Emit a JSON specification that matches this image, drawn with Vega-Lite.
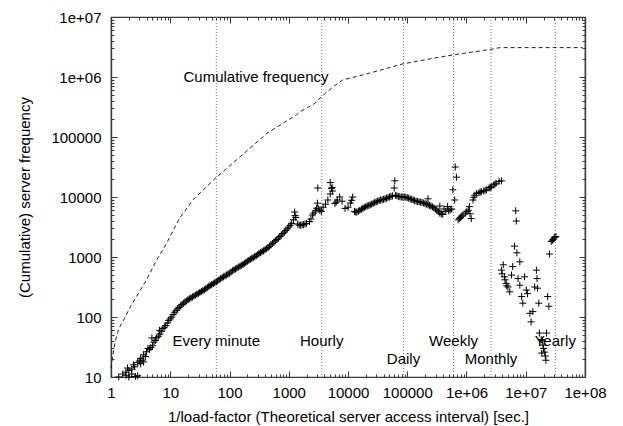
{
  "$schema": "https://vega.github.io/schema/vega-lite/v6.json",
  "width": 474,
  "height": 360,
  "autosize": {"type": "none"},
  "padding": {"left": 111, "top": 17, "right": 38, "bottom": 49},
  "background": "white",
  "config": {
    "view": {"stroke": "#3a3a3a", "strokeWidth": 1.2},
    "font": "Liberation Sans",
    "axis": {
      "labelFont": "Liberation Sans", "titleFont": "Liberation Sans",
      "labelFontSize": 15, "titleFontSize": 15, "titleFontWeight": "normal",
      "labelColor": "black", "titleColor": "black",
      "domainColor": "#3a3a3a", "domainWidth": 1.2, "tickColor": "#3a3a3a", "tickWidth": 1,
      "grid": false, "labelFlush": false, "labelOverlap": false
    }
  },
  "datasets": {
    "lines": [{"x": 60}, {"x": 3600}, {"x": 86400}, {"x": 604800}, {"x": 2592000}, {"x": 31536000}],
    "labels": [
      {"x": 280, "y": 1000000, "t": "Cumulative frequency"},
      {"x": 60, "y": 40, "t": "Every minute"},
      {"x": 3600, "y": 40, "t": "Hourly"},
      {"x": 86400, "y": 20, "t": "Daily"},
      {"x": 604800, "y": 40, "t": "Weekly"},
      {"x": 2592000, "y": 20, "t": "Monthly"},
      {"x": 31536000, "y": 40, "t": "Yearly"}
    ],
    "cum": [
      {"x": 1, "y": 14.1}, {"x": 1.07, "y": 22.4}, {"x": 1.17, "y": 38}, {"x": 1.29, "y": 55},
      {"x": 1.41, "y": 69}, {"x": 1.74, "y": 100}, {"x": 2.14, "y": 151}, {"x": 2.69, "y": 219},
      {"x": 3.98, "y": 417}, {"x": 5.89, "y": 891}, {"x": 8.71, "y": 1698}, {"x": 12.9, "y": 3631},
      {"x": 14.5, "y": 4467}, {"x": 24, "y": 8913}, {"x": 60.3, "y": 21380}, {"x": 151, "y": 46770},
      {"x": 427, "y": 114800}, {"x": 1349, "y": 234400}, {"x": 1549, "y": 263000}, {"x": 2754, "y": 363100},
      {"x": 3548, "y": 467700}, {"x": 5495, "y": 676100}, {"x": 8128, "y": 891300}, {"x": 20420, "y": 1122000},
      {"x": 85110, "y": 1660000}, {"x": 269200, "y": 2042000}, {"x": 602600, "y": 2344000},
      {"x": 2570000, "y": 2884000}, {"x": 3631000, "y": 3090000}, {"x": 91200000, "y": 3090000}
    ],
    "scatter": [
      {"x": 1.35, "y": 10}, {"x": 1.58, "y": 11.2}, {"x": 1.78, "y": 10.7}, {"x": 1.78, "y": 12}, {"x": 1.9, "y": 14.1},
      {"x": 2, "y": 10}, {"x": 2, "y": 12.9}, {"x": 2.24, "y": 11.2}, {"x": 2.24, "y": 13.5}, {"x": 2.51, "y": 14.8},
      {"x": 2.6, "y": 10.2}, {"x": 2.4, "y": 16},
      {"x": 2.82, "y": 10.5}, {"x": 2.82, "y": 17.4}, {"x": 3.16, "y": 16.6}, {"x": 3.16, "y": 20.4},
      {"x": 3.0, "y": 18.5}, {"x": 3.35, "y": 19}, {"x": 3.8, "y": 22}, {"x": 4.2, "y": 30}, {"x": 4.7, "y": 31},
      {"x": 3.55, "y": 17.8}, {"x": 3.55, "y": 23.4}, {"x": 3.98, "y": 26.3}, {"x": 4.47, "y": 28.8},
      {"x": 4.9, "y": 44.7}, {"x": 5.01, "y": 33.1}, {"x": 5.3, "y": 38}, {"x": 5.62, "y": 40.7}, {"x": 5.9, "y": 45},
      {"x": 6.31, "y": 47.9}, {"x": 6.7, "y": 52}, {"x": 6.6, "y": 60},
      {"x": 7.08, "y": 57.5}, {"x": 7.5, "y": 64}, {"x": 7.94, "y": 67.6}, {"x": 8.4, "y": 72}, {"x": 8.91, "y": 79.4}, {"x": 9.4, "y": 88}, {"x": 10, "y": 93.3},
      {"x": 10.6, "y": 100}, {"x": 11.2, "y": 110}, {"x": 11.9, "y": 120}, {"x": 12.6, "y": 129}, {"x": 13.3, "y": 137}, {"x": 14.1, "y": 145}, {"x": 15, "y": 153}, {"x": 15.8, "y": 162},
      {"x": 16.8, "y": 170}, {"x": 17.8, "y": 178}, {"x": 18.9, "y": 186}, {"x": 20, "y": 195}, {"x": 21.2, "y": 202}, {"x": 22.4, "y": 209}, {"x": 23.7, "y": 216}, {"x": 25.1, "y": 224},
      {"x": 26.6, "y": 232}, {"x": 28.2, "y": 240}, {"x": 29.9, "y": 248}, {"x": 31.6, "y": 257}, {"x": 33.5, "y": 266}, {"x": 35.5, "y": 275}, {"x": 37.6, "y": 285}, {"x": 39.8, "y": 295},
      {"x": 42.2, "y": 309}, {"x": 44.7, "y": 324}, {"x": 47.3, "y": 335}, {"x": 50.1, "y": 347}, {"x": 53.1, "y": 359}, {"x": 56.2, "y": 372}, {"x": 59.6, "y": 385}, {"x": 63.1, "y": 398},
      {"x": 66.8, "y": 417}, {"x": 70.8, "y": 437}, {"x": 75, "y": 452}, {"x": 79.4, "y": 468}, {"x": 84.1, "y": 484}, {"x": 89.1, "y": 501}, {"x": 94.4, "y": 519}, {"x": 100, "y": 537},
      {"x": 106, "y": 562}, {"x": 112, "y": 589}, {"x": 119, "y": 610}, {"x": 126, "y": 631}, {"x": 133, "y": 653}, {"x": 141, "y": 676}, {"x": 150, "y": 700}, {"x": 158, "y": 724},
      {"x": 168, "y": 750}, {"x": 178, "y": 776}, {"x": 189, "y": 813}, {"x": 200, "y": 851}, {"x": 212, "y": 881}, {"x": 224, "y": 912}, {"x": 237, "y": 944}, {"x": 251, "y": 977},
      {"x": 266, "y": 1012}, {"x": 282, "y": 1047}, {"x": 299, "y": 1096}, {"x": 316, "y": 1148}, {"x": 335, "y": 1188}, {"x": 355, "y": 1230}, {"x": 376, "y": 1273}, {"x": 398, "y": 1318},
      {"x": 422, "y": 1380}, {"x": 447, "y": 1445}, {"x": 473, "y": 1513}, {"x": 501, "y": 1585}, {"x": 531, "y": 1679}, {"x": 562, "y": 1778}, {"x": 596, "y": 1862}, {"x": 631, "y": 1950},
      {"x": 668, "y": 2065}, {"x": 708, "y": 2188}, {"x": 750, "y": 2317}, {"x": 794, "y": 2455}, {"x": 841, "y": 2600}, {"x": 891, "y": 2754}, {"x": 944, "y": 2951}, {"x": 1000, "y": 3162},
      {"x": 1060, "y": 3388}, {"x": 1122, "y": 3631}, {"x": 1202, "y": 4169}, {"x": 1259, "y": 5623}, {"x": 1280, "y": 4900}, {"x": 1318, "y": 4571},
      {"x": 1413, "y": 3548}, {"x": 1500, "y": 3400}, {"x": 1585, "y": 3388}, {"x": 1680, "y": 3420}, {"x": 1778, "y": 3467}, {"x": 1880, "y": 3550}, {"x": 1995, "y": 3631},
      {"x": 2239, "y": 3890}, {"x": 2370, "y": 4300}, {"x": 2512, "y": 5012}, {"x": 2660, "y": 5400}, {"x": 2818, "y": 5888}, {"x": 2950, "y": 6500}, {"x": 3090, "y": 14130}, {"x": 3050, "y": 7900},
      {"x": 3162, "y": 6310}, {"x": 3350, "y": 6000}, {"x": 3548, "y": 5754}, {"x": 3802, "y": 6761}, {"x": 4169, "y": 7586},
      {"x": 4571, "y": 8913}, {"x": 5012, "y": 11220}, {"x": 5248, "y": 13800}, {"x": 5012, "y": 17380}, {"x": 5400, "y": 14500},
      {"x": 5495, "y": 12590}, {"x": 6026, "y": 7762}, {"x": 6300, "y": 8200}, {"x": 6607, "y": 8913}, {"x": 7244, "y": 10000},
      {"x": 7943, "y": 8511}, {"x": 8913, "y": 6457}, {"x": 10000, "y": 6761}, {"x": 10960, "y": 7943}, {"x": 11500, "y": 8800},
      {"x": 12020, "y": 10000}, {"x": 12880, "y": 5754}, {"x": 13500, "y": 5600}, {"x": 14130, "y": 5623}, {"x": 15000, "y": 5800}, {"x": 15850, "y": 6026},
      {"x": 16800, "y": 6250}, {"x": 17780, "y": 6457}, {"x": 18800, "y": 6700}, {"x": 19950, "y": 6918}, {"x": 21100, "y": 7100}, {"x": 22390, "y": 7244}, {"x": 23700, "y": 7400}, {"x": 25120, "y": 7586},
      {"x": 26600, "y": 7850}, {"x": 28180, "y": 8128}, {"x": 29900, "y": 8300}, {"x": 31620, "y": 8511}, {"x": 33500, "y": 8700}, {"x": 35480, "y": 8913}, {"x": 37600, "y": 9000}, {"x": 39810, "y": 9120},
      {"x": 42200, "y": 9330}, {"x": 44670, "y": 9550}, {"x": 47300, "y": 9800}, {"x": 50120, "y": 10000}, {"x": 53100, "y": 10200}, {"x": 56230, "y": 10470}, {"x": 60260, "y": 14130},
      {"x": 61660, "y": 18620}, {"x": 63100, "y": 10720}, {"x": 66800, "y": 10500}, {"x": 70790, "y": 10230}, {"x": 75000, "y": 10100}, {"x": 79430, "y": 10000},
      {"x": 84100, "y": 10000}, {"x": 89130, "y": 10000}, {"x": 94400, "y": 9900}, {"x": 100000, "y": 9772}, {"x": 106000, "y": 9550}, {"x": 112200, "y": 9333}, {"x": 119000, "y": 9120}, {"x": 125900, "y": 8913},
      {"x": 133000, "y": 8700}, {"x": 141300, "y": 8511}, {"x": 150000, "y": 8400}, {"x": 158500, "y": 8318}, {"x": 168000, "y": 8200}, {"x": 177800, "y": 8128}, {"x": 189000, "y": 7950}, {"x": 199500, "y": 7762},
      {"x": 211000, "y": 7600}, {"x": 223900, "y": 7413}, {"x": 223900, "y": 9333}, {"x": 237000, "y": 7250}, {"x": 251200, "y": 7079}, {"x": 266000, "y": 6850}, {"x": 281800, "y": 6607}, {"x": 299000, "y": 6300},
      {"x": 316200, "y": 6026}, {"x": 335000, "y": 5700}, {"x": 354800, "y": 5370}, {"x": 354800, "y": 7079}, {"x": 376000, "y": 5250}, {"x": 398100, "y": 5129},
      {"x": 416900, "y": 6310}, {"x": 446700, "y": 5754}, {"x": 478600, "y": 6918}, {"x": 501200, "y": 5888}, {"x": 530000, "y": 6100},
      {"x": 562300, "y": 6310}, {"x": 588800, "y": 13180}, {"x": 631000, "y": 8913}, {"x": 645700, "y": 31620},
      {"x": 676100, "y": 21380}, {"x": 724400, "y": 4169}, {"x": 760000, "y": 4400}, {"x": 794300, "y": 4571}, {"x": 830000, "y": 4800}, {"x": 871000, "y": 5012},
      {"x": 955000, "y": 5370}, {"x": 1010000, "y": 5700}, {"x": 1072000, "y": 6026}, {"x": 1122000, "y": 6918}, {"x": 1148000, "y": 5248},
      {"x": 1202000, "y": 4365}, {"x": 1288000, "y": 8913}, {"x": 1330000, "y": 9900}, {"x": 1380000, "y": 10720}, {"x": 1479000, "y": 11480},
      {"x": 1622000, "y": 11750}, {"x": 1700000, "y": 12000}, {"x": 1778000, "y": 12300}, {"x": 1950000, "y": 12590}, {"x": 2060000, "y": 12900}, {"x": 2188000, "y": 13180},
      {"x": 2399000, "y": 14130}, {"x": 2520000, "y": 14500}, {"x": 2630000, "y": 14790}, {"x": 2884000, "y": 15850}, {"x": 3020000, "y": 16400}, {"x": 3162000, "y": 16980},
      {"x": 3548000, "y": 18200}, {"x": 3890000, "y": 18620}
    ],
    "tail": [
      {"x": 6761000, "y": 5888}, {"x": 6918000, "y": 3981}, {"x": 6457000, "y": 1514}, {"x": 7079000, "y": 1175},
      {"x": 3890000, "y": 603}, {"x": 4169000, "y": 741}, {"x": 3981000, "y": 525}, {"x": 4365000, "y": 468},
      {"x": 4467000, "y": 417}, {"x": 4677000, "y": 363}, {"x": 4786000, "y": 331}, {"x": 5012000, "y": 316},
      {"x": 5370000, "y": 263}, {"x": 5754000, "y": 501}, {"x": 6026000, "y": 692}, {"x": 7413000, "y": 437},
      {"x": 7943000, "y": 832}, {"x": 7943000, "y": 339}, {"x": 8511000, "y": 219}, {"x": 8913000, "y": 170},
      {"x": 9550000, "y": 468}, {"x": 10230000, "y": 282}, {"x": 10720000, "y": 245}, {"x": 11750000, "y": 115},
      {"x": 12300000, "y": 83}, {"x": 13180000, "y": 123}, {"x": 14130000, "y": 316}, {"x": 15140000, "y": 603},
      {"x": 15490000, "y": 437}, {"x": 15850000, "y": 302}, {"x": 16600000, "y": 170}, {"x": 16980000, "y": 54},
      {"x": 18200000, "y": 42}, {"x": 18620000, "y": 25}, {"x": 19050000, "y": 40}, {"x": 19500000, "y": 34},
      {"x": 19950000, "y": 30}, {"x": 20890000, "y": 26}, {"x": 21380000, "y": 22.4}, {"x": 21880000, "y": 19},
      {"x": 22390000, "y": 54}, {"x": 23440000, "y": 219}, {"x": 24550000, "y": 151}, {"x": 25120000, "y": 1122},
      {"x": 26920000, "y": 1820}, {"x": 28180000, "y": 1905}, {"x": 28840000, "y": 1950}, {"x": 30200000, "y": 2089},
      {"x": 30900000, "y": 2138}, {"x": 32360000, "y": 2188}
    ]
  },
  "resolve": {"axis": {"x": "independent", "y": "independent"}},
  "layer": [
    {
      "data": {"name": "lines"},
      "mark": {"type": "rule", "color": "#777777", "strokeWidth": 1, "strokeDash": [1, 2]},
      "encoding": {
        "x": {"field": "x", "type": "quantitative",
              "scale": {"type": "log", "domain": [1, 100000000], "nice": false},
              "axis": {"orient": "top", "title": null, "labels": false, "tickSize": -3,
                       "values": [2,3,4,5,6,7,8,9,20,30,40,50,60,70,80,90,200,300,400,500,600,700,800,900,2000,3000,4000,5000,6000,7000,8000,9000,20000,30000,40000,50000,60000,70000,80000,90000,200000,300000,400000,500000,600000,700000,800000,900000,2000000,3000000,4000000,5000000,6000000,7000000,8000000,9000000,20000000,30000000,40000000,50000000,60000000,70000000,80000000,90000000]}}
      }
    },
    {
      "data": {"name": "cum"},
      "mark": {"type": "line", "color": "#222222", "strokeWidth": 1, "strokeDash": [4, 3]},
      "encoding": {
        "x": {"field": "x", "type": "quantitative",
              "scale": {"type": "log", "domain": [1, 100000000], "nice": false},
              "axis": {"orient": "bottom", "title": "1/load-factor (Theoretical server access interval) [sec.]",
                       "values": [1,10,100,1000,10000,100000,1000000,10000000,100000000],
                       "labelExpr": "datum.value >= 1000000 ? '1e+0' + round(log(datum.value)/LN10) : format(datum.value, 'd')",
                       "tickSize": -6, "labelPadding": 14, "titlePadding": 9}},
        "y": {"field": "y", "type": "quantitative",
              "scale": {"type": "log", "domain": [10, 10000000], "nice": false},
              "axis": {"orient": "left", "title": "(Cumulative) server frequency",
                       "values": [10,100,1000,10000,100000,1000000,10000000],
                       "labelExpr": "datum.value >= 1000000 ? '1e+0' + round(log(datum.value)/LN10) : format(datum.value, 'd')",
                       "tickSize": -6, "labelPadding": 16, "titlePadding": 18}}
      }
    },
    {
      "data": {"name": "scatter"},
      "mark": {"type": "point", "shape": "M-1,0L1,0M0,-1L0,1", "size": 49, "filled": false, "stroke": "black", "strokeWidth": 1, "opacity": 1},
      "encoding": {
        "x": {"field": "x", "type": "quantitative",
              "scale": {"type": "log", "domain": [1, 100000000], "nice": false},
              "axis": {"orient": "top", "title": null, "labels": false, "tickSize": -6,
                       "values": [1,10,100,1000,10000,100000,1000000,10000000,100000000]}},
        "y": {"field": "y", "type": "quantitative",
              "scale": {"type": "log", "domain": [10, 10000000], "nice": false},
              "axis": {"orient": "right", "title": null, "labels": false, "tickSize": -6,
                       "values": [10,100,1000,10000,100000,1000000,10000000]}}
      }
    },
    {
      "data": {"name": "tail"},
      "mark": {"type": "point", "shape": "M-1,0L1,0M0,-1L0,1", "size": 49, "filled": false, "stroke": "black", "strokeWidth": 1, "opacity": 1},
      "encoding": {
        "x": {"field": "x", "type": "quantitative",
              "scale": {"type": "log", "domain": [1, 100000000], "nice": false}, "axis": null},
        "y": {"field": "y", "type": "quantitative",
              "scale": {"type": "log", "domain": [10, 10000000], "nice": false},
              "axis": {"orient": "right", "title": null, "labels": false, "tickSize": -3,
                       "values": [20,30,40,50,60,70,80,90,200,300,400,500,600,700,800,900,2000,3000,4000,5000,6000,7000,8000,9000,20000,30000,40000,50000,60000,70000,80000,90000,200000,300000,400000,500000,600000,700000,800000,900000,2000000,3000000,4000000,5000000,6000000,7000000,8000000,9000000]}}
      }
    },
    {
      "data": {"name": "labels"},
      "mark": {"type": "text", "font": "Liberation Sans", "fontSize": 15, "color": "black", "align": "center", "baseline": "middle"},
      "encoding": {
        "x": {"field": "x", "type": "quantitative",
              "scale": {"type": "log", "domain": [1, 100000000], "nice": false},
              "axis": {"orient": "bottom", "title": null, "labels": false, "tickSize": -3,
                       "values": [2,3,4,5,6,7,8,9,20,30,40,50,60,70,80,90,200,300,400,500,600,700,800,900,2000,3000,4000,5000,6000,7000,8000,9000,20000,30000,40000,50000,60000,70000,80000,90000,200000,300000,400000,500000,600000,700000,800000,900000,2000000,3000000,4000000,5000000,6000000,7000000,8000000,9000000,20000000,30000000,40000000,50000000,60000000,70000000,80000000,90000000]}},
        "y": {"field": "y", "type": "quantitative",
              "scale": {"type": "log", "domain": [10, 10000000], "nice": false},
              "axis": {"orient": "left", "title": null, "labels": false, "tickSize": -3,
                       "values": [20,30,40,50,60,70,80,90,200,300,400,500,600,700,800,900,2000,3000,4000,5000,6000,7000,8000,9000,20000,30000,40000,50000,60000,70000,80000,90000,200000,300000,400000,500000,600000,700000,800000,900000,2000000,3000000,4000000,5000000,6000000,7000000,8000000,9000000]}},
        "text": {"field": "t", "type": "nominal"}
      }
    }
  ]
}
